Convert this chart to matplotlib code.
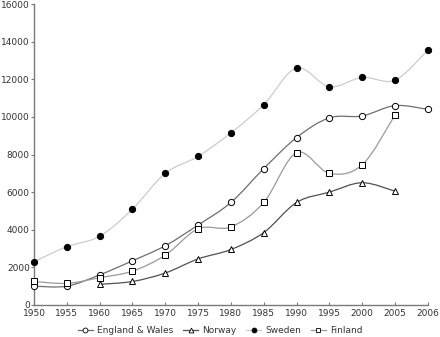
import numpy as np
import matplotlib
matplotlib.use("Agg")
import matplotlib.pyplot as plt
from matplotlib.path import Path
from matplotlib.patches import PathPatch
from matplotlib.lines import Line2D

years = ["1950", "1955", "1960", "1965", "1970", "1975", "1980", "1985",
         "1990", "1995", "2000", "2005", "2006"]
england_wales = [1000, 1000, 1600, 2350, 3150, 4250, 5450, 7250, 8900, 9950, 10050, 10600, 10400]
norway = [None, None, 1100, 1250, 1700, 2450, 2950, 3850, 5450, 6000, 6500, 6050, None]
sweden = [2300, 3100, 3650, 5100, 7000, 7900, 9150, 10650, 12600, 11600, 12100, 11950, 13550]
finland = [1250, 1150, 1450, 1800, 2650, 4050, 4150, 5450, 8100, 7000, 7450, 10100, None]


def smooth_path(x, y):
    """Catmull-Rom curve through the points, as cubic Bezier segments."""
    pts = np.column_stack([x, y]).astype(float)
    n = len(pts)
    verts = [pts[0]]; codes = [Path.MOVETO]
    for i in range(n - 1):
        p0 = pts[max(i - 1, 0)]; p1 = pts[i]; p2 = pts[i + 1]; p3 = pts[min(i + 2, n - 1)]
        c1 = p1 + (p2 - p0) / 6.0
        c2 = p2 - (p3 - p1) / 6.0
        verts += [c1, c2, p2]; codes += [Path.CURVE4] * 3
    return Path(verts, codes)


fig = plt.figure(figsize=(4.4, 3.37), dpi=100)
ax = fig.add_axes([0.0773, 0.095, 0.895, 0.893])

series = [
    ("England & Wales", england_wales, "#6e6e6e", "o", "white"),
    ("Norway", norway, "#505050", "^", "white"),
    ("Sweden", sweden, "#cccccc", "o", "black"),
    ("Finland", finland, "#9a9a9a", "s", "white"),
]
handles = []
for name, vals, lc, mk, fc in series:
    idx = [i for i, v in enumerate(vals) if v is not None]
    xs = np.array(idx); ys = np.array([vals[i] for i in idx])
    ax.add_patch(PathPatch(smooth_path(xs, ys), fill=False, edgecolor=lc, lw=0.9,
                           clip_on=False, zorder=2))
    ax.plot(xs, ys, ls="none", marker=mk, ms=4.5, mfc=fc, mec="black", mew=0.7,
            clip_on=False, zorder=3)
    handles.append(Line2D([], [], color=lc, lw=0.9, marker=mk, ms=3.5, mfc=fc,
                          mec="black", mew=0.6, label=name))

ax.set_xlim(0, len(years) - 1)
ax.set_ylim(0, 16000)
ax.set_xticks(range(len(years)))
ax.set_xticklabels(years)
ax.set_yticks(range(0, 16001, 2000))
for s in ("top", "right"):
    ax.spines[s].set_visible(False)
for s in ("left", "bottom"):
    ax.spines[s].set_color("#7a7a7a"); ax.spines[s].set_linewidth(1.0)
ax.tick_params(colors="#7a7a7a", labelcolor="#333333", labelsize=6.5, width=0.8)
ax.tick_params(axis="x", direction="in", length=2, pad=3)
ax.tick_params(axis="y", direction="out", length=2, pad=1)

fig.legend(handles=handles, loc="center", bbox_to_anchor=(0.5, 0.02), ncol=4,
           frameon=False, fontsize=6.5, handlelength=1.7, columnspacing=1.1, handletextpad=0.4,
           labelcolor="#333333", borderpad=0, borderaxespad=0)

fig.savefig("out.png", dpi=100)
